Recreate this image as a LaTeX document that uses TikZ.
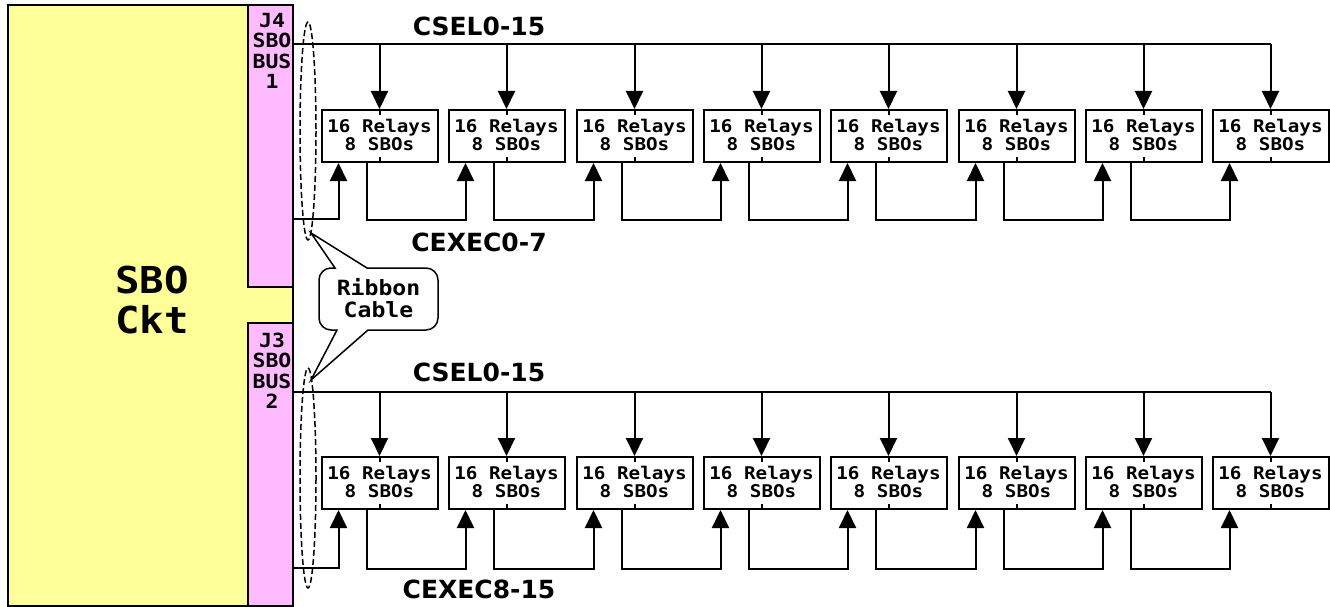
\documentclass[tikz,border=0pt]{standalone}
\usepackage{fontspec}
\usetikzlibrary{arrows.meta,calc}
\newfontfamily\monob{DejaVu Sans Mono Bold}[FakeStretch=1.1]
\newfontfamily\sansb{DejaVu Sans Bold}
\definecolor{sboyellow}{HTML}{FFFF99}
\definecolor{sbopink}{HTML}{FFBBFF}
\begin{document}
\begin{tikzpicture}[x=1pt,y=-1pt,line width=2pt,
  relay/.style={draw,fill=white,minimum width=116pt,minimum height=52pt,inner sep=0pt,align=center,
    text depth=3pt,font=\monob\fontsize{17.5}{18}\selectfont},
  arr/.style={-{Triangle[width=17pt,length=18pt]}},
  buslabel/.style={font=\sansb\fontsize{25}{30}\selectfont,inner sep=0pt},
  jlabel/.style={font=\monob\fontsize{19.5}{20.5}\selectfont,align=center,inner sep=0pt},
  cable/.style={dashed,line width=1.5pt,dash pattern=on 6pt off 3pt},
]
\useasboundingbox (0,0) rectangle (1330,607);

% SBO circuit block and connectors
\draw[fill=sboyellow] (8,5) rectangle (293,606);
\draw[fill=sbopink] (248,5) rectangle (293,287);
\draw[fill=sbopink] (248,323) rectangle (293,606);
\node[font=\monob\fontsize{37}{40}\selectfont,align=center,inner sep=0pt] (ckt) at (152,300) {SBO\\Ckt};
\node[jlabel] (j4) at (272,51) {J4\\SBO\\BUS\\1};
\node[jlabel] (j3) at (272,371) {J3\\SBO\\BUS\\2};

% relay boxes
\foreach \cx [count=\i] in {379.5,506.5,634.5,761.5,888.5,1016.5,1143.5,1270.5} {
  \node[relay] (t\i) at (\cx,136) {16 Relays\\8 SBOs};
  \node[relay] (u\i) at (\cx,483) {16 Relays\\8 SBOs};
  \draw (t\i.north) -- ++(0,6);
  \draw (t\i.south) -- ++(0,-6);
  \draw (u\i.north) -- ++(0,6);
  \draw (u\i.south) -- ++(0,-6);
}

% bus start points
\coordinate (cselA) at (293,44);
\coordinate (cexA) at (293,219);
\coordinate (cselB) at (293,392);
\coordinate (cexB) at (293,568);

% CSEL buses
\draw (cselA) -- (cselA -| t8.north);
\draw (cselB) -- (cselB -| u8.north);
\foreach \i in {1,...,8} {
  \draw[arr] (t\i.north |- cselA) -- (t\i.north);
  \draw[arr] (u\i.north |- cselB) -- (u\i.north);
}

% CEXEC daisy chains
\draw[arr] (cexA) -| ($(t1.south)+(-41,0)$);
\draw[arr] (cexB) -| ($(u1.south)+(-41,0)$);
\foreach \i [count=\j from 2] in {1,...,7} {
  \draw[arr] ($(t\i.south)+(-13,0)$) -- ++(0,57) -| ($(t\j.south)+(-41,0)$);
  \draw[arr] ($(u\i.south)+(-13,0)$) -- ++(0,59) -| ($(u\j.south)+(-41,0)$);
}

% bus labels
\node[buslabel] (lcs1) at (479,26) {CSEL0-15};
\node[buslabel] (lce1) at (479,242) {CEXEC0-7};
\node[buslabel] (lcs2) at (479,372) {CSEL0-15};
\node[buslabel] (lce2) at (479,589) {CEXEC8-15};

% ribbon cables
\draw[cable] (308,131) ellipse [x radius=8, y radius=109];
\draw[cable] (308,478) ellipse [x radius=8, y radius=110];

% callout
\draw[fill=white,line width=1.5pt] (335,268) -- (311,233) -- (367,268) -- (426,268)
  arc[start angle=270,end angle=360,radius=12] -- (438,318)
  arc[start angle=0,end angle=90,radius=12] -- (368,330) -- (311,380) -- (337,330) -- (331,330)
  arc[start angle=90,end angle=180,radius=12] -- (319,280)
  arc[start angle=180,end angle=270,radius=12] -- cycle;
\node[font=\monob\fontsize{21}{22}\selectfont,align=center,inner sep=0pt] (rc) at (378.5,298) {Ribbon\\Cable};
\end{tikzpicture}
\end{document}
